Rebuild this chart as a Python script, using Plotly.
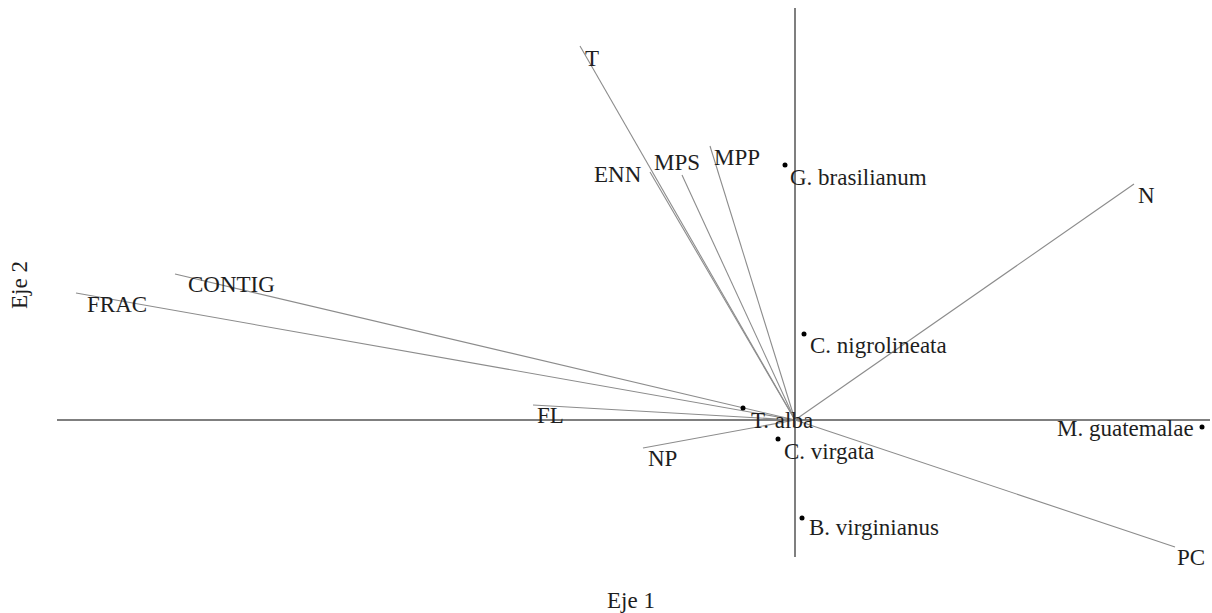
import plotly.graph_objects as go

# Environmental variable vectors (biplot arrows, axis units)
var_names = ["T", "ENN", "MPS", "MPP", "CONTIG", "FRAC", "FL", "NP", "N", "PC"]
var_x = [-2.15, -1.45, -1.13, -0.85, -6.20, -7.19, -2.62, -1.52, 3.39, 3.80]
var_y = [3.74, 2.48, 2.45, 2.74, 1.46, 1.27, 0.15, -0.28, 2.36, -1.27]

# Species scores
sp_names = ["G. brasilianum", "C. nigrolineata", "T. alba", "C. virgata",
            "B. virginianus", "M. guatemalae"]
sp_x = [-0.10, 0.09, -0.52, -0.17, 0.07, 4.07]
sp_y = [2.55, 0.86, 0.12, -0.19, -0.98, -0.07]

# Axis line extents
axis1_extent = [-7.38, 4.15]
axis2_extent = [-1.37, 4.12]

FONT = "Liberation Serif"
FS = 23
TXT = "#1e1e1e"

# label offsets in pixels (style)
var_shift = {"T": (12, -12), "ENN": (-32, -2), "MPS": (-5, 13), "MPP": (27, -11),
             "CONTIG": (56, -10), "FRAC": (41, -11), "FL": (17, -10), "NP": (19, -10),
             "N": (12, -11), "PC": (16, -10)}
sp_shift = {"G. brasilianum": (3, -12, "left"), "C. nigrolineata": (4, -11, "left"),
            "T. alba": (6, -12, "left"), "C. virgata": (4, -12, "left"),
            "B. virginianus": (5, -9, "left"), "M. guatemalae": (-6, -1, "right")}

W, H = 1212, 613

fig = go.Figure()

# axes
fig.add_trace(go.Scatter(x=axis1_extent, y=[0, 0], mode="lines",
                         line=dict(color="#7f7f7f", width=2), hoverinfo="skip", showlegend=False))
fig.add_trace(go.Scatter(x=[0, 0], y=axis2_extent, mode="lines",
                         line=dict(color="#7f7f7f", width=2), hoverinfo="skip", showlegend=False))

# vectors
for n, x, y in zip(var_names, var_x, var_y):
    fig.add_trace(go.Scatter(x=[0, x], y=[0, y], mode="lines",
                             line=dict(color="#8c8c8c", width=1.1),
                             hoverinfo="skip", showlegend=False))
    dx, dy = var_shift[n]
    fig.add_annotation(x=x, y=y, text=n, showarrow=False, xshift=dx, yshift=dy,
                       xanchor="center", yanchor="middle",
                       font=dict(family=FONT, size=FS, color=TXT))

# species points
fig.add_trace(go.Scatter(x=sp_x, y=sp_y, mode="markers",
                         marker=dict(color="black", size=5),
                         hoverinfo="skip", showlegend=False))
for n, x, y in zip(sp_names, sp_x, sp_y):
    dx, dy, anc = sp_shift[n]
    fig.add_annotation(x=x, y=y, text=n, showarrow=False, xshift=dx, yshift=dy,
                       xanchor=anc, yanchor="middle",
                       font=dict(family=FONT, size=FS, color=TXT))

# axis titles (positions in pixels converted to paper)
fig.add_annotation(x=631 / W, y=1 - 600 / H, xref="paper", yref="paper", text="Eje 1",
                   showarrow=False, xanchor="center", yanchor="middle",
                   font=dict(family=FONT, size=FS, color=TXT))
fig.add_annotation(x=19 / W, y=1 - 285 / H, xref="paper", yref="paper", text="Eje 2",
                   showarrow=False, textangle=-90, xanchor="center", yanchor="middle",
                   font=dict(family=FONT, size=FS, color=TXT))

fig.update_layout(
    width=W, height=H, margin=dict(l=0, r=0, t=0, b=0),
    paper_bgcolor="white", plot_bgcolor="white",
    xaxis=dict(range=[-7.95, 4.17], visible=False, fixedrange=True),
    yaxis=dict(range=[-1.93, 4.20], visible=False, fixedrange=True),
)
fig.write_html("out.html")
